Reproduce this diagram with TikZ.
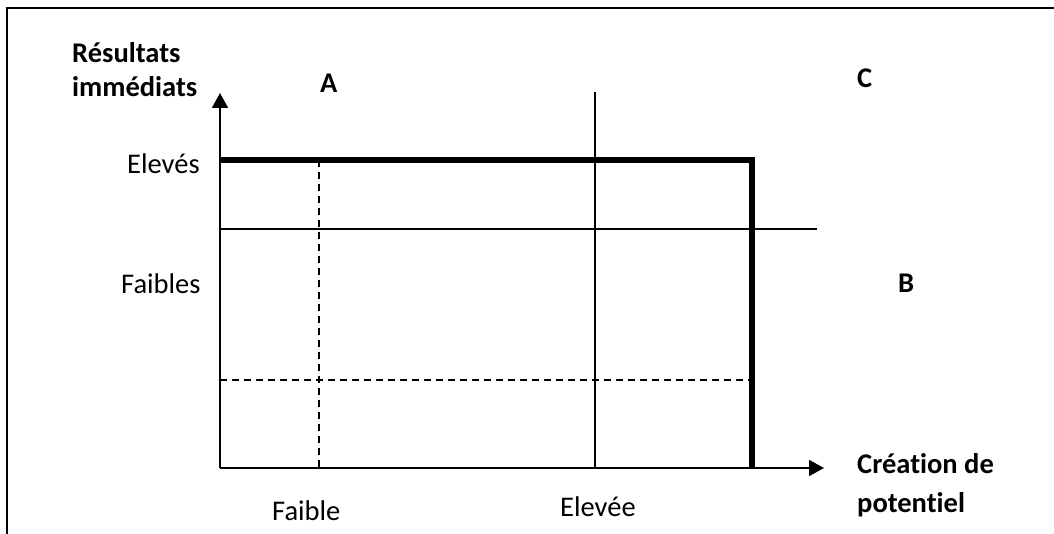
\documentclass[tikz,border=0pt]{standalone}
\usepackage{fontspec}
\setmainfont{Carlito}[Ligatures=NoCommon]
\usetikzlibrary{arrows.meta}
\begin{document}
\begin{tikzpicture}[x=1pt,y=-1pt,
  lbl/.style={anchor=base west,inner sep=0pt,font=\fontsize{28.5}{34}\selectfont},
  blbl/.style={lbl,font=\fontsize{28.5}{34}\selectfont\bfseries},
  thin/.style={line width=1.6pt},
  dsh/.style={line width=1.6pt,dash pattern=on 7pt off 5pt},
  thick5/.style={line width=5.5pt},
  axis/.style={line width=1.8pt,-{Triangle[length=15pt,width=16pt]}}]
\useasboundingbox (0,0) rectangle (1054,534);
% frame (open at right and bottom)
\coordinate (fbl) at (7,534);
\coordinate (ftl) at (7,8);
\coordinate (ftr) at (1054,8);
\draw[line width=2pt] (fbl) -- (ftl) -- (ftr);
% axes
\coordinate (O) at (220,468);
\coordinate (Ytip) at (220,93);
\coordinate (Xtip) at (824,468);
% grid lines
\coordinate (vtop) at (595,92);
\coordinate (vbot) at (595,468);
\coordinate (hl) at (220,229);
\coordinate (hr) at (817,229);
\draw[thin] (vtop) -- (vbot);
\draw[thin] (hl) -- (hr);
\coordinate (dvt) at (319,160);
\coordinate (dvb) at (319,468);
\coordinate (dhl) at (220,380);
\coordinate (dhr) at (752,380);
\draw[dsh] (dvt) -- (dvb);
\draw[dsh] (dhl) -- (dhr);
% thick frontier
\coordinate (tl) at (220,160);
\coordinate (tc) at (752,160);
\coordinate (tb) at (752,468);
\draw[thick5,line join=miter] (tl) -- (tc) -- (tb);
\draw[axis] (O) -- (Ytip);
\draw[axis] (O) -- (Xtip);
% labels
\node[blbl] (res) at (72,63) {Résultats};
\node[blbl] (imm) at (72,97) {immédiats};
\node[blbl] (A) at (320,93) {A};
\node[blbl] (C) at (857,88) {C};
\node[blbl] (B) at (898,293) {B};
\node[lbl] (elv) at (127,174) {Elevés};
\node[lbl] (fbs) at (121,294) {Faibles};
\node[lbl] (fbl2) at (272,520) {Faible};
\node[lbl] (elve) at (560,516) {Elevée};
\node[blbl] (cre) at (857,473) {Création de};
\node[blbl] (pot) at (857,512) {potentiel};
\end{tikzpicture}
\end{document}
